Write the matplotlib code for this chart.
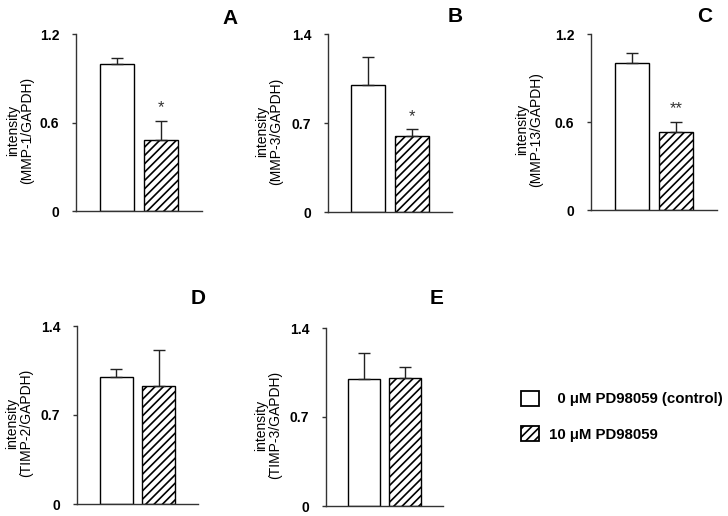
import matplotlib
matplotlib.use("Agg")
import matplotlib.pyplot as plt
from matplotlib.patches import Patch

plt.rcParams["hatch.linewidth"] = 1.2

# ---- data ----
panels = ["A", "B", "C", "D", "E"]
ylabels = ["MMP-1/GAPDH", "MMP-3/GAPDH", "MMP-13/GAPDH", "TIMP-2/GAPDH", "TIMP-3/GAPDH"]
control_mean = [1.00, 1.00, 1.00, 1.00, 1.00]
control_err = [0.04, 0.22, 0.07, 0.06, 0.20]
pd_mean = [0.48, 0.60, 0.53, 0.93, 1.01]
pd_err = [0.13, 0.05, 0.07, 0.28, 0.08]
ymax = [1.2, 1.4, 1.2, 1.4, 1.4]
yticks = [[0, 0.6, 1.2], [0, 0.7, 1.4], [0, 0.6, 1.2], [0, 0.7, 1.4], [0, 0.7, 1.4]]
ytick_labels = [["0", "0.6", "1.2"], ["0", "0.7", "1.4"], ["0", "0.6", "1.2"],
                ["0", "0.7", "1.4"], ["0", "0.7", "1.4"]]
signif = ["*", "*", "**", "", ""]
legend_labels = ["\u20070 \u03bcM PD98059 (control)", "10 \u03bcM PD98059"]

# ---- layout (pixel boxes: left, right, top, bottom) ----
W, H = 728, 516
boxes = [(76, 202, 34, 211), (328, 452, 34, 212), (591, 717, 34, 210),
         (77, 198, 326, 504), (326, 443, 328, 506)]
label_off = [56, 59, 62, 58, 58]
letter_pos = [(230, 19), (455, 16), (705, 16), (198, 298), (437, 298)]

fig = plt.figure(figsize=(W / 100, H / 100), dpi=100)
fig.patch.set_facecolor("white")

narrow = ["Liberation Sans Narrow", "Liberation Sans", "DejaVu Sans"]
regular = ["Liberation Sans", "DejaVu Sans"]
axcol = "#333333"

for i, p in enumerate(panels):
    l, r, t, b = boxes[i]
    ax = fig.add_axes([l / W, 1 - b / H, (r - l) / W, (b - t) / H])
    x = [0, 1]
    ax.bar(x, [control_mean[i], pd_mean[i]], width=0.78,
           color="white", edgecolor="black", linewidth=1.0,
           hatch=[None, "////"], zorder=2)
    ax.errorbar(x, [control_mean[i], pd_mean[i]],
                yerr=[[0, 0], [control_err[i], pd_err[i]]],
                fmt="none", ecolor="#222222", elinewidth=1.0, capsize=4,
                capthick=1.0, zorder=3)
    if signif[i]:
        ax.annotate(signif[i], xy=(1, pd_mean[i] + pd_err[i]), xytext=(0, 4),
                    textcoords="offset points", ha="center", va="bottom",
                    fontsize=12, color="#333333", family=regular)
    ax.set_xlim(-0.92, 1.92)
    ax.set_ylim(0, ymax[i])
    ax.set_yticks(yticks[i])
    ax.set_yticklabels(ytick_labels[i], family=narrow, fontweight="bold",
                       fontsize=10)
    ax.set_xticks([])
    for s in ["top", "right"]:
        ax.spines[s].set_visible(False)
    for s in ["left", "bottom"]:
        ax.spines[s].set_color(axcol)
        ax.spines[s].set_linewidth(1.0)
    ax.tick_params(axis="y", direction="out", length=3, width=1.0,
                   colors=axcol, pad=9, labelcolor="black")
    ax.set_ylabel("intensity\n(" + ylabels[i] + ")", family=regular,
                  fontsize=10, linespacing=1.0)
    ax.yaxis.label.set_va("center")
    ax.yaxis.set_label_coords(-label_off[i] / (r - l), 0.455)
    lx, ly = letter_pos[i]
    fig.text(lx / W, 1 - ly / H, p, ha="center", va="center",
             fontsize=15, fontweight="bold", family=regular)

handles = [Patch(facecolor="white", edgecolor="black", linewidth=1.3),
           Patch(facecolor="white", edgecolor="black", linewidth=1.3, hatch="////")]
fig.legend(handles, legend_labels, loc="upper left",
           bbox_to_anchor=(516 / W, 1 - 386 / H), frameon=False,
           handlelength=1.2, handleheight=1.2, handletextpad=0.7,
           labelspacing=1.3, borderpad=0.3, borderaxespad=0,
           prop={"family": regular, "weight": "bold", "size": 10.8})

fig.savefig("out.png", dpi=100, facecolor="white")
